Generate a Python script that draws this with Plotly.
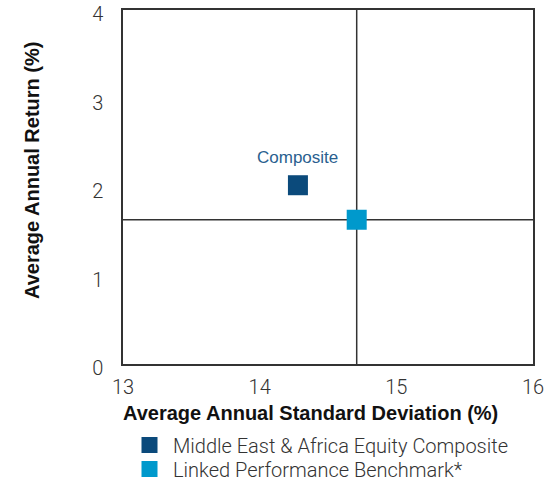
import plotly.graph_objects as go

series_names = ["Middle East & Africa Equity Composite", "Linked Performance Benchmark*"]
std_dev = [14.28, 14.71]
avg_return = [2.02, 1.63]
colors = ["#0b4a7b", "#0099cc"]
x_ticks = [13, 14, 15, 16]
y_ticks = [0, 1, 2, 3, 4]

legend_ids = ["legend", "legend2"]

fig = go.Figure()
for name, x, y, c, lg in zip(series_names, std_dev, avg_return, colors, legend_ids):
    fig.add_trace(go.Scatter(
        x=[x], y=[y], mode="markers", name=name, legend=lg,
        marker=dict(symbol="square", size=20, color=c, line=dict(width=0)),
    ))

# crosshair at benchmark
fig.add_shape(type="line", xref="x", yref="paper", x0=std_dev[1], x1=std_dev[1], y0=0, y1=1,
              line=dict(color="#333333", width=1.5), layer="below")
fig.add_shape(type="line", xref="paper", yref="y", x0=0, x1=1, y0=avg_return[1], y1=avg_return[1],
              line=dict(color="#333333", width=1.5), layer="below")

fig.add_annotation(x=std_dev[0], y=avg_return[0], text="Composite", showarrow=False,
                   yshift=28, font=dict(family="Liberation Sans Narrow, Arial Narrow, Liberation Sans",
                                        size=17, color="#2a5f8f"))

# axis titles (placed as paper annotations to match reference offsets)
fig.add_annotation(xref="paper", yref="paper", x=(310 - 123) / 410, y=(364 - 413) / 354,
                   text="<b>Average Annual Standard Deviation (%)</b>", showarrow=False,
                   xanchor="center", yanchor="middle", font=dict(size=20, color="#111111"))
fig.add_annotation(xref="paper", yref="paper", x=(32 - 123) / 410, y=(364 - 171) / 354,
                   text="<b>Average Annual Return (%)</b>", showarrow=False, textangle=-90,
                   xanchor="center", yanchor="middle", font=dict(size=20, color="#111111"))

light = dict(family="Roboto, Liberation Sans", size=20, color="#333333", weight=300)
leg_common = dict(xanchor="left", yanchor="middle", orientation="v", font=light,
                  itemsizing="trace", itemwidth=37, bgcolor="rgba(0,0,0,0)", borderwidth=0)

fig.update_layout(
    width=547, height=486,
    margin=dict(l=123, r=14, t=10, b=122, autoexpand=False),
    plot_bgcolor="white", paper_bgcolor="white",
    font=dict(family="Liberation Sans, Arial", color="#333333"),
    xaxis=dict(range=[13, 16], tickvals=x_ticks, showgrid=False, zeroline=False,
               showline=True, mirror=True, linecolor="#333333", linewidth=1.5,
               ticks="", tickfont=light, automargin=False, ticklabelstandoff=4,
               ticklabeloverflow="allow"),
    yaxis=dict(range=[0, 4], tickvals=y_ticks, showgrid=False, zeroline=False,
               showline=True, mirror=True, linecolor="#333333", linewidth=1.5,
               ticks="", tickfont=light, ticklabelstandoff=14, automargin=False,
               ticklabeloverflow="allow", ticklabelshift=4),
    legend=dict(x=(126 - 123) / 410, y=(364 - 445) / 354, **leg_common),
    legend2=dict(x=(126 - 123) / 410, y=(364 - 469) / 354, **leg_common),
    showlegend=True,
)

fig.write_html("out.html", post_script="document.body.style.margin='0';",
               config={"displayModeBar": False})
